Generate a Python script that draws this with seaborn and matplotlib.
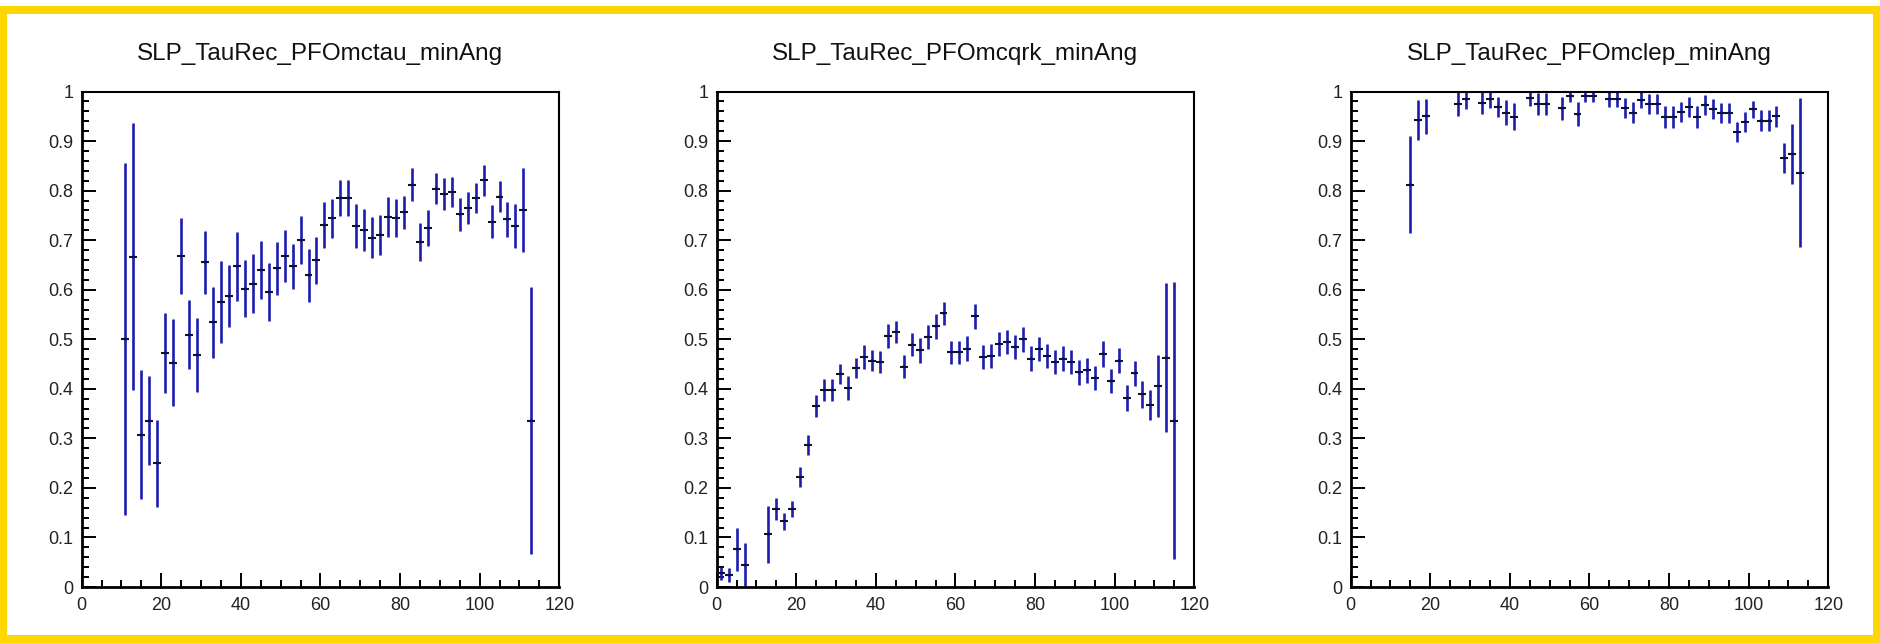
import numpy as np
import pandas as pd
import seaborn as sns
import matplotlib
matplotlib.use("Agg")
import matplotlib.pyplot as plt
from matplotlib.patches import Rectangle
from matplotlib.ticker import MultipleLocator, FuncFormatter

# ---------------- data ----------------
titles = ["SLP_TauRec_PFOmctau_minAng", "SLP_TauRec_PFOmcqrk_minAng", "SLP_TauRec_PFOmclep_minAng"]

x_tau = list(range(11, 115, 2))
y_tau = [0.50, 0.667, 0.307, 0.336, 0.25, 0.472, 0.453, 0.668, 0.509, 0.468,
         0.655, 0.534, 0.575, 0.587, 0.647, 0.602, 0.612, 0.64, 0.595, 0.643,
         0.668, 0.647, 0.70, 0.629, 0.659, 0.73, 0.744, 0.785, 0.785, 0.728,
         0.72, 0.705, 0.711, 0.747, 0.745, 0.756, 0.812, 0.696, 0.724, 0.804,
         0.793, 0.797, 0.752, 0.765, 0.785, 0.821, 0.737, 0.788, 0.742, 0.728,
         0.761, 0.336]
e_tau = [0.355, 0.27, 0.13, 0.09, 0.088, 0.08, 0.088, 0.077, 0.07, 0.074,
         0.064, 0.072, 0.083, 0.063, 0.069, 0.058, 0.06, 0.058, 0.058, 0.054,
         0.052, 0.046, 0.048, 0.054, 0.048, 0.046, 0.04, 0.037, 0.037, 0.044,
         0.042, 0.041, 0.04, 0.041, 0.038, 0.034, 0.033, 0.039, 0.036, 0.031,
         0.033, 0.031, 0.033, 0.032, 0.031, 0.031, 0.033, 0.031, 0.036, 0.044,
         0.084, 0.27]

x_qrk = [1, 3, 5, 7] + list(range(13, 117, 2))
y_qrk = [0.028, 0.024, 0.076, 0.044, 0.106, 0.158, 0.133, 0.158, 0.222, 0.287,
         0.365, 0.397, 0.397, 0.43, 0.401, 0.442, 0.464, 0.457, 0.454, 0.506,
         0.515, 0.445, 0.489, 0.478, 0.505, 0.526, 0.552, 0.474, 0.474, 0.481,
         0.546, 0.464, 0.466, 0.491, 0.495, 0.485, 0.5, 0.461, 0.481, 0.466,
         0.454, 0.461, 0.454, 0.433, 0.437, 0.422, 0.471, 0.415, 0.457, 0.381,
         0.431, 0.389, 0.367, 0.406, 0.463, 0.336]
e_qrk = [0.013, 0.014, 0.043, 0.044, 0.058, 0.022, 0.017, 0.016, 0.02, 0.02,
         0.022, 0.022, 0.022, 0.02, 0.024, 0.021, 0.024, 0.022, 0.023, 0.024,
         0.022, 0.024, 0.023, 0.025, 0.024, 0.025, 0.023, 0.023, 0.023, 0.025,
         0.025, 0.024, 0.024, 0.024, 0.024, 0.024, 0.025, 0.025, 0.024, 0.025,
         0.025, 0.025, 0.025, 0.026, 0.026, 0.024, 0.026, 0.024, 0.025, 0.026,
         0.025, 0.027, 0.03, 0.063, 0.15, 0.28]

x_lep = [15, 17, 19, 27, 29, 33, 35, 37, 39, 41, 45, 47, 49, 53, 55, 57, 59, 61] + list(range(65, 115, 2))
y_lep = [0.812, 0.942, 0.95, 0.975, 0.984, 0.977, 0.984, 0.969, 0.957, 0.949,
         0.986, 0.975, 0.975, 0.966, 0.991, 0.954, 0.991, 0.991,
         0.984, 0.984, 0.967, 0.957, 0.982, 0.975, 0.975, 0.949, 0.949, 0.959,
         0.969, 0.949, 0.973, 0.964, 0.957, 0.957, 0.918, 0.939, 0.964, 0.941,
         0.941, 0.95, 0.866, 0.874, 0.836]
e_lep = [0.098, 0.04, 0.035, 0.025, 0.02, 0.022, 0.017, 0.02, 0.025, 0.027,
         0.016, 0.022, 0.022, 0.023, 0.013, 0.024, 0.013, 0.013,
         0.016, 0.016, 0.02, 0.021, 0.016, 0.02, 0.02, 0.022, 0.022, 0.02,
         0.02, 0.022, 0.02, 0.02, 0.02, 0.02, 0.02, 0.02, 0.017, 0.021,
         0.021, 0.021, 0.03, 0.06, 0.15]

bin_half_width = 1.0

series = [(x_tau, y_tau, e_tau), (x_qrk, y_qrk, e_qrk), (x_lep, y_lep, e_lep)]

# ---------------- style ----------------
sns.set_theme(style="ticks")
plt.rcParams['font.family'] = ['Liberation Sans', 'DejaVu Sans']

W, H = 1881, 643
fig = plt.figure(figsize=(W / 100, H / 100), dpi=100)
fig.patch.set_facecolor("white")

blue = "#1c1cb0"
lefts = [81.7, 716.7, 1350.7]
ax_w = 477.5
ax_top, ax_bot = 91.5, 587.0


def yfmt(v, pos):
    if abs(v) < 1e-9:
        return "0"
    if abs(v - 1) < 1e-9:
        return "1"
    return f"{v:.1f}"


for (xs, ys, es), left, title in zip(series, lefts, titles):
    ax = fig.add_axes([left / W, (H - ax_bot) / H, ax_w / W, (ax_bot - ax_top) / H])
    df = pd.DataFrame({"x": xs, "y": ys, "e": es})
    ax.errorbar(df["x"], df["y"], yerr=df["e"], fmt="none", ecolor=blue,
                elinewidth=1.9, capsize=0, zorder=2)
    ax.errorbar(df["x"], df["y"], xerr=bin_half_width, fmt="none", ecolor="#101030",
                elinewidth=1.5, capsize=0, zorder=3)
    sns.scatterplot(data=df, x="x", y="y", ax=ax, s=3, color="#101030",
                    edgecolor="none", zorder=4, legend=False)
    ax.set_xlim(0, 120)
    ax.set_ylim(0, 1)
    ax.set_xlabel("")
    ax.set_ylabel("")
    ax.xaxis.set_major_locator(MultipleLocator(20))
    ax.xaxis.set_minor_locator(MultipleLocator(5))
    ax.yaxis.set_major_locator(MultipleLocator(0.1))
    ax.yaxis.set_minor_locator(MultipleLocator(0.02))
    ax.yaxis.set_major_formatter(FuncFormatter(yfmt))
    ax.tick_params(axis="both", which="both", direction="in", top=False, right=False,
                   colors="black", labelcolor="#222222", labelsize=13)
    ax.tick_params(axis="both", which="major", length=10, width=1.4)
    ax.tick_params(axis="both", which="minor", length=5, width=1.4)
    ax.tick_params(axis="y", which="major", pad=6)
    ax.tick_params(axis="x", which="major", pad=7)
    for sp in ax.spines.values():
        sp.set_visible(True)
        sp.set_color("black")
        sp.set_linewidth(1.5)
    ax.spines["left"].set_linewidth(2.0)
    ax.spines["bottom"].set_linewidth(2.0)
    ax.set_facecolor("white")
    fig.text((left + ax_w / 2) / W, 1 - 54 / H, title, ha="center", va="center",
             fontsize=17.5, color="#111111")

# yellow frame
lw_px = 8
fig.patches.append(Rectangle((3.5 / W, 4 / H), (W - 7.5) / W, (H - 4 - 9.5) / H,
                             transform=fig.transFigure, fill=False,
                             edgecolor="#FFD700", linewidth=lw_px * 0.72, zorder=10))

fig.savefig("out.png", dpi=100, facecolor="white")
